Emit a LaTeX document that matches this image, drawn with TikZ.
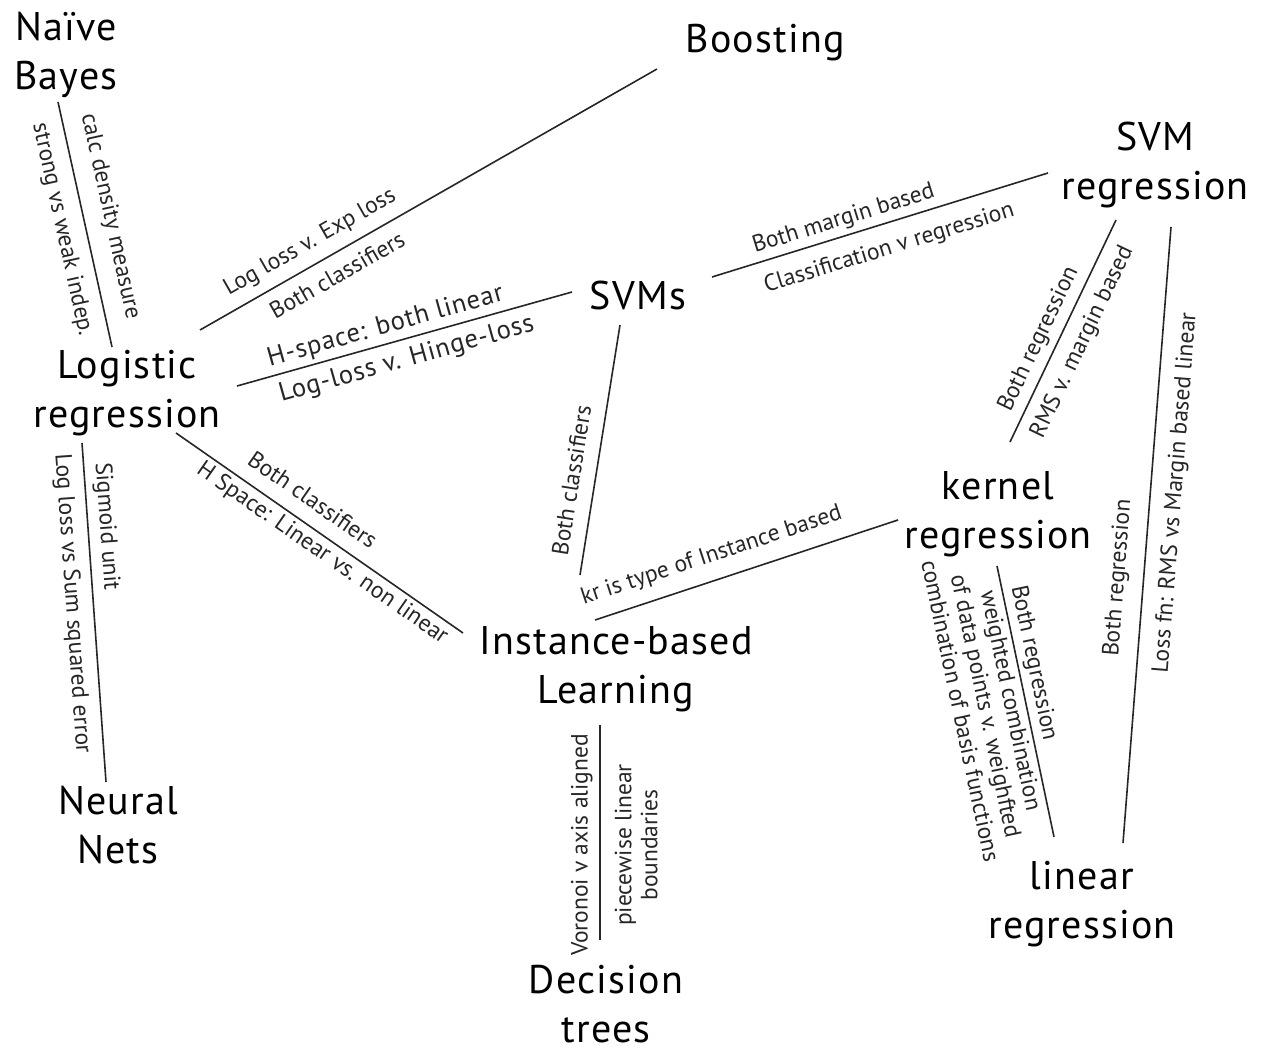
\documentclass[tikz,border=0pt]{standalone}
\usepackage{fontspec}
\setmainfont{PT Sans}
\newfontfamily\wideface[LetterSpace=3]{PT Sans}
\newfontfamily\midface[LetterSpace=3]{PT Sans}
\begin{document}
\begin{tikzpicture}[x=1pt,y=-1pt,
  concept/.style={font=\wideface\fontsize{40}{49}\selectfont, align=center, inner sep=0pt},
  link/.style={line width=1.6pt, black!85},
  note/.style={font=\fontsize{23.5}{26}\selectfont, sloped, inner sep=0pt, text height=17pt, text depth=6pt, align=center},
  bignote/.style={note, font=\midface\fontsize{26.5}{30}\selectfont, text height=19pt, text depth=7pt},
  block/.style={font=\fontsize{23.5}{26}\selectfont, sloped, inner sep=0pt, align=center},
]
\path[use as bounding box] (0,0) rectangle (1268,1051);

% concepts
\node[concept] (nb)    at (66,55)    {Naïve\\Bayes};
\node[concept] (boost) at (765,43)   {Boosting};
\node[concept] (svmr)  at (1155,165) {SVM\\regression};
\node[concept] (svms)  at (638,295)  {SVMs};
\node[concept] (lr)    at (127,393)  {Logistic\\regression};
\node[concept] (kr)    at (998,514)  {kernel\\regression};
\node[concept] (ibl)   at (616,669)  {Instance-based\\Learning};
\node[concept] (nn)    at (118,825)  {Neural\\Nets};
\node[concept] (dt)    at (606,1004) {Decision\\trees};
\node[concept] (linr)  at (1082,904) {linear\\regression};

% relations
\draw[link] ([shift={(-8,47)}]nb.center) -- ([shift={(-15,-46)}]lr.center)
  node[note, pos=.49, above=13.5pt] {calc density measure}
  node[note, pos=.5, below=11.5pt] {strong vs weak indep.};

\draw[link] ([shift={(73,-63)}]lr.center) -- ([shift={(-108,26)}]boost.center)
  node[note, pos=.264, above=8.5pt] {Log loss v. Exp loss}
  node[note, pos=.278, below=10.5pt] {Both classifiers};

\draw[link] ([shift={(110,-7)}]lr.center) -- ([shift={(-66,-3)}]svms.center)
  node[bignote, pos=.457, above=2.5pt] {H-space: both linear}
  node[bignote, pos=.49, below=7.5pt] {Log-loss v. Hinge-loss};

\draw[link] ([shift={(-45,50)}]lr.center) -- ([shift={(-12,-43)}]nn.center)
  node[note, pos=.25, above=5.5pt] {Sigmoid unit}
  node[note, pos=.47, below=9.5pt] {Log loss vs Sum squared error};

\draw[link] ([shift={(49,40)}]lr.center) -- ([shift={(-153,-36)}]ibl.center)
  node[note, pos=.43, above=8.5pt] {Both classifiers}
  node[note, pos=.54, below=3.5pt] {H Space: Linear vs. non linear};

\draw[link] ([shift={(74,-18)}]svms.center) -- ([shift={(-107,8)}]svmr.center)
  node[note, pos=.406, above=3.5pt] {Both margin based}
  node[note, pos=.505, below=13.5pt] {Classification v regression};

\draw[link] ([shift={(-18,30)}]svms.center) -- ([shift={(-36,-94)}]ibl.center)
  node[note, pos=.636, above=8.5pt] {Both classifiers};

\draw[link] ([shift={(-21,-49)}]ibl.center) -- ([shift={(-100,6)}]kr.center)
  node[note, pos=.41, above=11.5pt] {kr is type of Instance based};

\draw[link] ([shift={(-39,55)}]svmr.center) -- ([shift={(12,-72)}]kr.center)
  node[note, pos=.573, above=5.5pt] {Both regression}
  node[note, pos=.507, below=10.5pt] {RMS v. margin based};

\draw[link] ([shift={(16,62)}]svmr.center) -- ([shift={(41,-61)}]linr.center)
  node[note, pos=.573, above=12.5pt] {Both regression}
  node[note, pos=.428, below=13.5pt] {Loss fn: RMS vs Margin based linear};

\draw[link] ([shift={(-1,52)}]kr.center) -- ([shift={(-28,-67)}]linr.center)
  node[note, pos=.37, above=3pt] {Both regression}
  node[block, pos=.486, below=4pt] {weighted combination\\of data points v. weighfted\\combination of basis functions};

\draw[link] ([shift={(-6,-64)}]dt.center) -- ([shift={(-16,56)}]ibl.center)
  node[note, pos=.442, above=5.5pt] {Voronoi v axis aligned}
  node[block, pos=.442, below=14pt] {piecewise linear\\boundaries};
\end{tikzpicture}
\end{document}
